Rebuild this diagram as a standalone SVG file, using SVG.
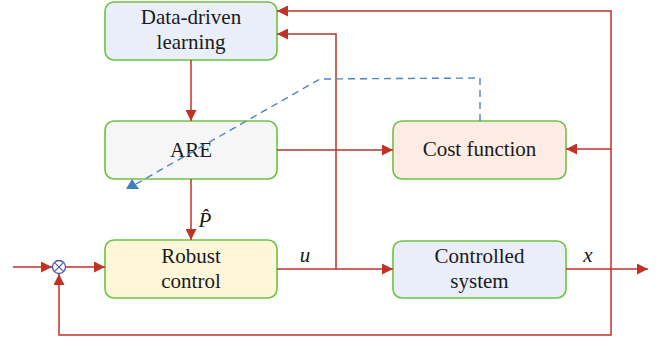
<svg xmlns="http://www.w3.org/2000/svg" width="666" height="343" viewBox="0 0 666 343">
<defs>
<style>
.box{stroke:#6cc242;stroke-width:1.6}
.t{font-family:"Liberation Serif","Times New Roman",serif;font-size:21px;fill:#1a1a1a;text-anchor:middle}
.i{font-style:italic}
.ln{fill:none;stroke:#bf3327;stroke-width:1.5}
.dash{fill:none;stroke:#4a84c4;stroke-width:1.4;stroke-dasharray:7,5}
</style>
<marker id="ah" viewBox="0 0 10 10" refX="10" refY="5" markerWidth="11" markerHeight="11" markerUnits="userSpaceOnUse" orient="auto">
<path d="M0,0 L10,5 L0,10 Z" fill="#bf3327"/>
</marker>
</defs>
<rect width="666" height="343" fill="#ffffff"/>
<g id="data-driven">
<rect class="box" x="105" y="2" width="172" height="58" rx="9" fill="#e9eef9"/>
<text class="t" x="191" y="24">Data-driven</text>
<text class="t" x="191" y="49">learning</text>
</g>
<g id="are">
<rect class="box" x="105" y="121" width="172" height="58" rx="9" fill="#f6f6f6"/>
<text class="t" x="191" y="157">ARE</text>
</g>
<g id="cost">
<rect class="box" x="393" y="121" width="173" height="58" rx="9" fill="#fdece3"/>
<text class="t" x="479.5" y="156">Cost function</text>
</g>
<g id="robust">
<rect class="box" x="105" y="240" width="172" height="58" rx="9" fill="#fdf6d9"/>
<text class="t" x="191" y="263">Robust</text>
<text class="t" x="191" y="288">control</text>
</g>
<g id="controlled">
<rect class="box" x="393" y="241" width="173" height="57" rx="9" fill="#e9eef9"/>
<text class="t" x="479.5" y="263">Controlled</text>
<text class="t" x="479.5" y="288">system</text>
</g>
<g id="sum">
<circle cx="59" cy="267" r="6.5" fill="#fff" stroke="#4a5aa0" stroke-width="1.3"/>
<path d="M54.4,262.4 L63.6,271.6 M63.6,262.4 L54.4,271.6" stroke="#4a5aa0" stroke-width="1.2"/>
</g>
<g id="connectors">
<path class="ln" d="M191,60 V121" marker-end="url(#ah)"/>
<path class="ln" d="M191,179 V240" marker-end="url(#ah)"/>
<path class="ln" d="M277,150 H393" marker-end="url(#ah)"/>
<path class="ln" d="M277,269 H393" marker-end="url(#ah)"/>
<path class="ln" d="M336,269 V34 H277" marker-end="url(#ah)"/>
<path class="ln" d="M566,269 H648" marker-end="url(#ah)"/>
<path class="ln" d="M611,269 V11 H277" marker-end="url(#ah)"/>
<path class="ln" d="M611,149 H566" marker-end="url(#ah)"/>
<path class="ln" d="M611,269 V335 H59 V274" marker-end="url(#ah)"/>
<path class="ln" d="M13,267 H52" marker-end="url(#ah)"/>
<path class="ln" d="M66,267 H105" marker-end="url(#ah)"/>
<path class="dash" d="M480,121 V78 L320,79 L136,184"/>
<polygon points="126,189 139,189 132,179" fill="#3f7fc4"/>
</g>
<g id="labels">
<text class="t i" x="305" y="262">u</text>
<text class="t i" x="588" y="262">x</text>
<text class="t i" x="205" y="227">P̂</text>
</g>
</svg>
